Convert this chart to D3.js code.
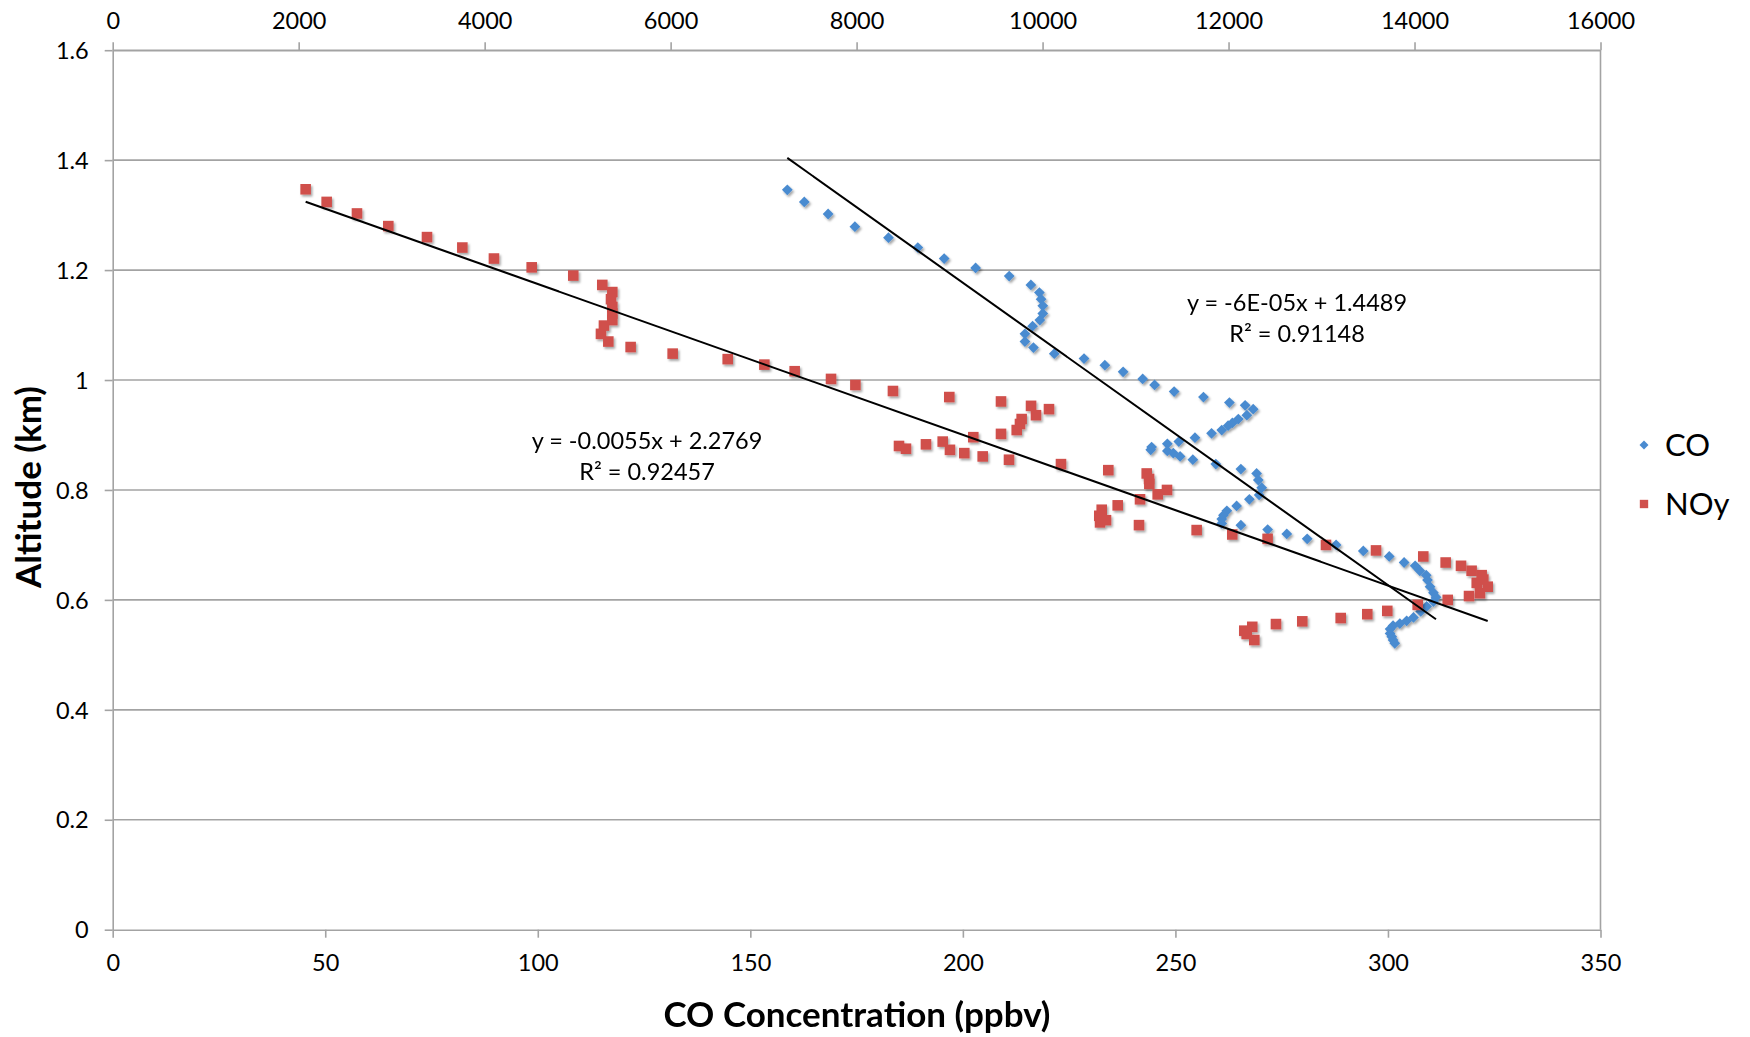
<!DOCTYPE html>
<html>
<head>
<meta charset="utf-8">
<script src="https://cdn.jsdelivr.net/npm/d3@7"></script>
<style>
  body { margin: 0; background: #ffffff; }
  svg { display: block; }
</style>
</head>
<body>
<svg id="chart" width="1750" height="1037"></svg>
<script>
// CO profile: concentration (ppbv, bottom axis) and altitude (km)
const coPpbv = [158.7, 162.7, 168.3, 174.6, 182.5, 189.4, 195.6, 203.0, 210.9, 216.0,
  218.0, 218.4, 218.8, 218.8, 218.1, 216.4, 214.6, 214.6, 216.6, 221.5,
  228.5, 233.4, 237.7, 242.3, 245.1, 249.7, 256.6, 262.7, 266.4, 268.3,
  266.8, 264.8, 263.4, 262.4, 260.9, 258.5, 254.6, 250.8, 248.1, 244.4,
  244.2, 248.1, 249.5, 251.1, 254.1, 259.5, 265.4, 269.1, 269.5, 270.3,
  269.7, 267.4, 264.4, 262.1, 261.3, 260.9, 260.9, 265.4, 271.7, 276.2,
  281.0, 287.8, 294.2, 300.3, 303.8, 306.4, 307.5, 309.0, 309.3, 309.9,
  310.7, 311.3, 310.7, 309.1, 307.7, 306.0, 304.4, 302.8, 301.2, 300.5,
  300.5, 300.9, 301.2, 301.6];
const coAlt = [1.346, 1.324, 1.302, 1.279, 1.259, 1.241, 1.221, 1.204, 1.189, 1.173,
  1.159, 1.147, 1.135, 1.121, 1.109, 1.098, 1.084, 1.070, 1.059, 1.048,
  1.039, 1.027, 1.015, 1.002, 0.991, 0.979, 0.969, 0.959, 0.954, 0.947,
  0.936, 0.929, 0.922, 0.917, 0.909, 0.903, 0.895, 0.888, 0.884, 0.878,
  0.873, 0.871, 0.867, 0.861, 0.855, 0.847, 0.838, 0.830, 0.818, 0.804,
  0.791, 0.783, 0.771, 0.762, 0.754, 0.747, 0.739, 0.736, 0.728, 0.720,
  0.711, 0.700, 0.689, 0.679, 0.668, 0.662, 0.653, 0.645, 0.636, 0.624,
  0.613, 0.605, 0.597, 0.588, 0.579, 0.568, 0.562, 0.557, 0.553, 0.547,
  0.539, 0.533, 0.527, 0.521];

// NOy profile: value on the secondary (top) axis and altitude (km)
const noyValue = [2075, 2301, 2627, 2964, 3380, 3760, 4100, 4506, 4953, 5265,
  5373, 5359, 5373, 5373, 5373, 5283, 5251, 5330, 5570, 6022,
  6614, 7008, 7334, 7725, 7987, 8391, 8997, 9553, 9876, 10069,
  9929, 9775, 9757, 9722, 9553, 9255, 8926, 8746, 8531, 8456,
  9004, 9158, 9356, 9639, 10198, 10707, 11120, 11145, 11148, 11338,
  11238, 11048, 10808, 10636, 10610, 10682, 10618, 11037, 11657, 12040,
  12420, 13048, 13586, 14094, 14335, 14500, 14614, 14722, 14740, 14669,
  14787, 14704, 14586, 14357, 14034, 13707, 13492, 13206, 12793, 12510,
  12255, 12169, 12195, 12277];
const noyAlt = [1.347, 1.324, 1.303, 1.280, 1.260, 1.241, 1.221, 1.205, 1.190, 1.173,
  1.160, 1.147, 1.133, 1.121, 1.109, 1.099, 1.084, 1.070, 1.060, 1.048,
  1.038, 1.028, 1.016, 1.002, 0.991, 0.980, 0.969, 0.961, 0.953, 0.947,
  0.936, 0.929, 0.920, 0.909, 0.902, 0.896, 0.888, 0.883, 0.875, 0.880,
  0.873, 0.867, 0.861, 0.855, 0.847, 0.836, 0.830, 0.820, 0.811, 0.800,
  0.792, 0.783, 0.772, 0.764, 0.753, 0.745, 0.741, 0.736, 0.727, 0.719,
  0.711, 0.700, 0.690, 0.679, 0.668, 0.662, 0.653, 0.645, 0.637, 0.631,
  0.624, 0.612, 0.607, 0.600, 0.591, 0.580, 0.574, 0.567, 0.561, 0.556,
  0.551, 0.544, 0.538, 0.527];

// Linear trend coefficients [slope, intercept]
const coTrend = [-0.0055, 2.2769];
const noyTrend = [-6e-5, 1.4489];
const coTrendText = ["y = -0.0055x + 2.2769", "R² = 0.92457"];
const noyTrendText = ["y = -6E-05x + 1.4489", "R² = 0.91148"];

// Axis ticks
const altTicks = [0, 0.2, 0.4, 0.6, 0.8, 1, 1.2, 1.4, 1.6];
const coTicks = [0, 50, 100, 150, 200, 250, 300, 350];
const noyTicks = [0, 2000, 4000, 6000, 8000, 10000, 12000, 14000, 16000];
const seriesNames = ["CO", "NOy"];

const FONT = "Lato, 'Open Sans', sans-serif";
const GRID = "#a3a3a3";
const CO_COLOR = "#4a8bd0";
const NOY_COLOR = "#d0504c";

const svg = d3.select("#chart");
const plot = { left: 112.7, right: 1600.5, top: 50.2, bottom: 929.7 };

const x = d3.scaleLinear().domain([0, 350]).range([plot.left, plot.right]);
const x2 = d3.scaleLinear().domain([0, 16000]).range([plot.left, plot.right]);
const y = d3.scaleLinear().domain([0, 1.6]).range([plot.bottom, plot.top]);

// marker shadow
const defs = svg.append("defs");
const f = defs.append("filter").attr("id", "shadow")
  .attr("x", "-50%").attr("y", "-50%").attr("width", "200%").attr("height", "200%");
f.append("feDropShadow").attr("dx", 1.5).attr("dy", 2).attr("stdDeviation", 1.3)
  .attr("flood-color", "#000").attr("flood-opacity", 0.35);

// horizontal gridlines
svg.append("g").selectAll("line").data(altTicks.slice(1)).join("line")
  .attr("x1", plot.left).attr("x2", plot.right)
  .attr("y1", d => y(d)).attr("y2", d => y(d))
  .attr("stroke", GRID).attr("stroke-width", 1.6);

// right frame line
svg.append("line")
  .attr("x1", plot.right).attr("x2", plot.right)
  .attr("y1", plot.top).attr("y2", plot.bottom)
  .attr("stroke", GRID).attr("stroke-width", 1.6);

function styleAxis(g) {
  g.select(".domain").attr("stroke", GRID).attr("stroke-width", 1.6);
  g.selectAll(".tick line").attr("stroke", GRID).attr("stroke-width", 1.6);
  g.selectAll("text").attr("font-family", FONT).attr("font-size", 23.5).attr("fill", "#000");
}

// bottom axis (CO)
const gB = svg.append("g").attr("transform", `translate(0,${plot.bottom})`)
  .call(d3.axisBottom(x).tickValues(coTicks).tickSize(8).tickSizeOuter(0).tickFormat(d3.format("d")));
styleAxis(gB);
gB.selectAll("text").attr("y", 41).attr("dy", 0);

// top axis (NOy)
const gT = svg.append("g").attr("transform", `translate(0,${plot.top})`)
  .call(d3.axisTop(x2).tickValues(noyTicks).tickSize(8).tickSizeOuter(0).tickFormat(d3.format("d")));
styleAxis(gT);
gT.selectAll("text").attr("y", -21).attr("dy", 0);

// left axis (altitude)
const gL = svg.append("g").attr("transform", `translate(${plot.left},0)`)
  .call(d3.axisLeft(y).tickValues(altTicks).tickSize(8).tickSizeOuter(0).tickFormat(d => d3.format("")(+d.toFixed(1))));
styleAxis(gL);
gL.selectAll("text").attr("x", -24).attr("dy", "0.35em");

// CO markers (diamonds)
const diamond = d3.symbol().type(d3.symbolSquare).size(58)();
svg.append("g").attr("filter", "url(#shadow)")
  .selectAll("path").data(d3.range(coPpbv.length)).join("path")
  .attr("d", diamond)
  .attr("transform", i => `translate(${x(coPpbv[i])},${y(coAlt[i])}) rotate(45)`)
  .attr("fill", CO_COLOR);

// NOy markers (squares)
const square = d3.symbol().type(d3.symbolSquare).size(112)();
svg.append("g").attr("filter", "url(#shadow)")
  .selectAll("path").data(d3.range(noyValue.length)).join("path")
  .attr("d", square)
  .attr("transform", i => `translate(${x2(noyValue[i])},${y(noyAlt[i])})`)
  .attr("fill", NOY_COLOR);

// trend lines over the data range of each series
const coExt = d3.extent(coPpbv);
const noyExt = d3.extent(noyValue);
const line = d3.line();
svg.append("path")
  .attr("d", line(coExt.map(v => [x(v), y(coTrend[0] * v + coTrend[1])])))
  .attr("stroke", "#000").attr("stroke-width", 2).attr("fill", "none");
svg.append("path")
  .attr("d", line(noyExt.map(v => [x2(v), y(noyTrend[0] * v + noyTrend[1])])))
  .attr("stroke", "#000").attr("stroke-width", 2).attr("fill", "none");

// trend equations
function eqLabel(lines, cx, baseY) {
  svg.append("g").selectAll("text").data(lines).join("text")
    .attr("x", cx).attr("y", (d, i) => baseY + i * 31)
    .attr("text-anchor", "middle")
    .attr("font-family", FONT).attr("font-size", 23.5).attr("fill", "#000")
    .text(d => d);
}
eqLabel(noyTrendText, 1297, 311);
eqLabel(coTrendText, 647, 449);

// axis titles
svg.append("text")
  .attr("x", 857).attr("y", 1027).attr("text-anchor", "middle")
  .attr("font-family", FONT).attr("font-weight", 700).attr("font-size", 35)
  .text("CO Concentration (ppbv)");
svg.append("text")
  .attr("transform", "translate(41,487) rotate(-90)").attr("text-anchor", "middle")
  .attr("font-family", FONT).attr("font-weight", 700).attr("font-size", 35)
  .text("Altitude (km)");

// legend
const legend = svg.append("g");
const legendY = [445, 504];
legend.append("path").attr("d", d3.symbol().type(d3.symbolSquare).size(40)())
  .attr("transform", `translate(1644,${legendY[0]}) rotate(45)`).attr("fill", CO_COLOR);
legend.append("path").attr("d", d3.symbol().type(d3.symbolSquare).size(70)())
  .attr("transform", `translate(1644,${legendY[1]})`).attr("fill", NOY_COLOR);
legend.selectAll("text").data(seriesNames).join("text")
  .attr("x", 1665).attr("y", (d, i) => legendY[i]).attr("dy", "0.36em")
  .attr("font-family", FONT).attr("font-size", 31).attr("fill", "#000")
  .text(d => d);
</script>
</body>
</html>
